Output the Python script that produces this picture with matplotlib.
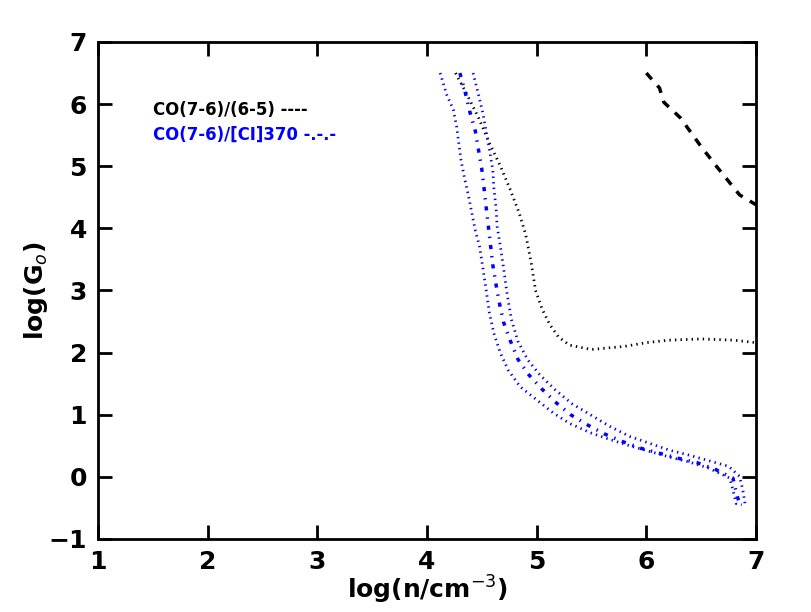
import matplotlib
matplotlib.use('Agg')
from matplotlib import pyplot as plt

# CO(7-6)/(6-5) ratio contour (dashed)
co_x = [6.0, 6.12, 6.16, 6.31, 6.49, 6.63, 6.85, 7.0]
co_y = [6.5, 6.26, 6.03, 5.78, 5.34, 5.02, 4.54, 4.38]

# second CO contour (dotted black)
co2_x = [4.26, 4.36, 4.47, 4.57, 4.67, 4.76, 4.84, 4.90, 4.95, 4.99, 5.05, 5.12,
         5.2, 5.3, 5.5, 5.8, 6.0, 6.2, 6.5, 6.8, 7.0]
co2_y = [6.5, 6.17, 5.78, 5.37, 5.0, 4.62, 4.25, 3.9, 3.45, 3.0, 2.7, 2.45,
         2.25, 2.12, 2.05, 2.1, 2.16, 2.2, 2.22, 2.2, 2.16]

# CO(7-6)/[CI]370 ratio (dash-dot) and its error envelope (dotted)
ci_x = [4.30, 4.35, 4.39, 4.44, 4.47, 4.50, 4.52, 4.54, 4.56, 4.58, 4.60, 4.63,
        4.66, 4.70, 4.76, 4.83, 4.93, 5.05, 5.18, 5.31, 5.47, 5.62, 5.78, 5.95,
        6.12, 6.29, 6.46, 6.63, 6.79, 6.83, 6.85]
ci_y = [6.5, 6.18, 5.88, 5.57, 5.26, 4.95, 4.65, 4.33, 4.03, 3.72, 3.41, 3.09,
        2.80, 2.48, 2.19, 1.89, 1.64, 1.41, 1.19, 1.0, 0.83, 0.69, 0.57, 0.46,
        0.38, 0.30, 0.23, 0.12, -0.02, -0.32, -0.42]

lo_x = [4.12, 4.18, 4.24, 4.27, 4.29, 4.31, 4.34, 4.38, 4.41, 4.44, 4.48, 4.51,
        4.54, 4.57, 4.61, 4.67, 4.74, 4.85, 5.0, 5.15, 5.30, 5.49, 5.67, 5.85,
        6.03, 6.21, 6.39, 6.57, 6.76, 6.79, 6.82, 6.87]
lo_y = [6.5, 6.15, 5.91, 5.64, 5.37, 5.10, 4.83, 4.51, 4.24, 3.97, 3.70, 3.36,
        3.0, 2.63, 2.31, 1.99, 1.72, 1.45, 1.24, 1.03, 0.86, 0.71, 0.60, 0.50,
        0.41, 0.32, 0.24, 0.14, -0.02, -0.21, -0.43, -0.45]

hi_x = [4.42, 4.47, 4.51, 4.54, 4.57, 4.60, 4.61, 4.63, 4.64, 4.67, 4.70, 4.73,
        4.77, 4.83, 4.92, 5.03, 5.17, 5.32, 5.49, 5.67, 5.85, 6.03, 6.21, 6.39,
        6.57, 6.75, 6.85, 6.88, 6.90, 6.87]
hi_y = [6.5, 6.15, 5.85, 5.56, 5.26, 4.94, 4.65, 4.32, 4.03, 3.70, 3.34, 2.95,
        2.53, 2.18, 1.88, 1.64, 1.40, 1.18, 1.0, 0.81, 0.65, 0.54, 0.43, 0.35,
        0.26, 0.17, 0.01, -0.21, -0.43, -0.45]

# old-style dash patterns, not scaled by line width
plt.rcParams['lines.scale_dashes'] = False

fig = plt.figure(figsize=(8.12, 6.12), dpi=100)
fig.patch.set_facecolor('white')
ax = fig.add_axes([0.1207, 0.1193, 0.8103, 0.8121])

ax.plot(co_x, co_y, color='black', linestyle=(0, (6, 6)), linewidth=2.5)
ax.plot(co2_x, co2_y, color='black', linestyle=(0, (1, 3)), linewidth=2)
ax.plot(lo_x, lo_y, color='blue', linestyle=(0, (1, 3)), linewidth=2)
ax.plot(hi_x, hi_y, color='blue', linestyle=(0, (1, 3)), linewidth=2)
ax.plot(ci_x, ci_y, color='blue', linestyle=(0, (3, 5, 1, 5)), linewidth=2.5)

ax.text(1.5, 5.9, 'CO(7-6)/(6-5) ----', color='black', fontsize=11.9,
        fontweight='bold', va='center')
ax.text(1.5, 5.51, 'CO(7-6)/[CI]370 -.-.-', color='blue', fontsize=11.9,
        fontweight='bold', va='center')

ax.set_xlim(1, 7)
ax.set_ylim(-1, 7)
ax.set_xlabel(r'log(n/cm$^{-3}$)', fontsize=18, fontweight='bold', labelpad=0)
ax.set_ylabel(r'log(G$_o$)', fontsize=18, fontweight='bold', labelpad=-1)
ax.tick_params(direction='in', length=10, width=2, top=True, right=True,
               labelsize=18, pad=8)
for lab in ax.get_xticklabels() + ax.get_yticklabels():
    lab.set_fontweight('bold')
for sp in ax.spines.values():
    sp.set_linewidth(2)

plt.savefig('out.png', dpi=100)
